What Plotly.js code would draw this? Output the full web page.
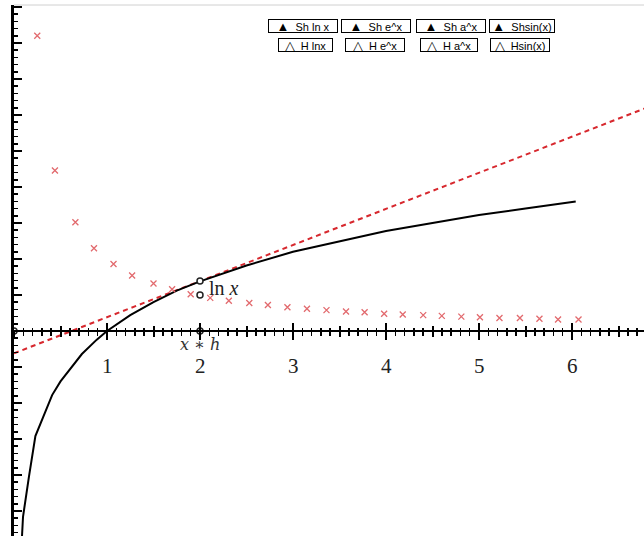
<!DOCTYPE html>
<html>
<head>
<meta charset="utf-8">
<script src="https://cdn.plot.ly/plotly-3.0.1.min.js"></script>
<style>html,body{margin:0;padding:0;background:#fff;}#chart{width:644px;height:536px;}</style>
</head>
<body>
<div id="chart"></div>
<script>
// ln x curve
const lnX = [0.086,0.097,0.16,0.23,0.41,0.5,0.73,0.89,1,1.25,1.5,1.75,2,2.5,3,3.5,4,4.5,5,5.5,6.04];
const lnY = [-2.85,-2.58,-2.03,-1.46,-0.89,-0.70,-0.32,-0.12,0,0.22,0.40,0.56,0.69,0.91,1.10,1.25,1.39,1.50,1.61,1.70,1.80];
// tangent line at x = 2
const tanX = [0, 6.8];
const tanY = [-0.31, 3.1];
// difference-quotient markers
const dqX = [0.25,0.44,0.66,0.86,1.07,1.27,1.50,1.70,1.90,2.11,2.31,2.53,2.73,2.94,3.15,3.36,3.57,3.77,3.98,4.18,4.40,4.60,4.81,5.01,5.22,5.44,5.65,5.85,6.07];
const dqY = [4.10,2.23,1.51,1.15,0.93,0.77,0.66,0.58,0.51,0.46,0.42,0.39,0.36,0.33,0.31,0.29,0.27,0.26,0.24,0.23,0.22,0.21,0.20,0.19,0.18,0.18,0.17,0.16,0.16];
// small open circles
const dotX = [0, 2, 2, 2];
const dotY = [0, 0, 0.693, 0.5];
// x tick labels
const tickVals = [1,2,3,4,5,6];
const tickText = ['1','2','3','4','5','6'];
// buttons
const btnRow1Icon = '▲', btnRow2Icon = '△';
const btnRow1 = ['Sh ln x','Sh e^x','Sh a^x','Shsin(x)'];
const btnRow2 = ['H lnx','H e^x','H a^x','Hsin(x)'];

const W = 644, H = 536, ML = 14, MT = 5;
const PW = W - ML, PH = H - MT;
const pxX = 93, pxY = 72, zeroPy = 331;
const xRange = [0, PW / pxX];
const yRange = [-(H - zeroPy) / pxY, (zeroPy - MT) / pxY];
const axisPos = (H - zeroPy) / PH;
const paperX = px => (px - ML) / PW;
const paperY = py => (H - py) / PH;

const traces = [
  {x: tanX, y: tanY, mode: 'lines', line: {color: '#d7282e', width: 2, dash: '5px,4px'}, hoverinfo: 'skip'},
  {x: lnX, y: lnY, mode: 'lines', line: {color: '#000', width: 2}, hoverinfo: 'skip'},
  {x: dqX, y: dqY, mode: 'markers', marker: {symbol: 'x-thin', size: 6, line: {color: '#e26a6e', width: 1.3}}, hoverinfo: 'skip'},
  {x: dotX, y: dotY, mode: 'markers', marker: {symbol: 'circle', size: 6, color: '#fff', line: {color: '#222', width: 1.5}}, hoverinfo: 'skip'},
  {x: [null], y: [null], xaxis: 'x2', mode: 'markers', showlegend: false},
  {x: [null], y: [null], xaxis: 'x3', mode: 'markers', showlegend: false},
  {x: [null], y: [null], xaxis: 'x4', mode: 'markers', showlegend: false}
];

const baseX = {range: xRange, anchor: 'free', position: axisPos, showgrid: false, zeroline: false,
  showticklabels: false, fixedrange: true};
const layout = {
  width: W, height: H, margin: {l: ML, r: 0, t: MT, b: 0},
  paper_bgcolor: '#fff', plot_bgcolor: '#fff', showlegend: false,
  xaxis: Object.assign({}, baseX, {showline: true, linecolor: '#000', linewidth: 2,
    ticks: 'outside', dtick: 0.5, tick0: 0, ticklen: 5, tickwidth: 2, tickcolor: '#000',
    minor: {dtick: 0.1, tick0: 0, ticks: 'outside', ticklen: 3.5, tickwidth: 1.5, tickcolor: '#000'}}),
  xaxis2: Object.assign({}, baseX, {overlaying: 'x', showline: false,
    ticks: 'inside', dtick: 0.5, tick0: 0, ticklen: 5, tickwidth: 2, tickcolor: '#000',
    minor: {dtick: 0.1, tick0: 0, ticks: 'inside', ticklen: 3.5, tickwidth: 1.5, tickcolor: '#000'}}),
  xaxis3: Object.assign({}, baseX, {overlaying: 'x', showline: false,
    ticks: 'outside', tickvals: tickVals, ticklen: 8, tickwidth: 2, tickcolor: '#000'}),
  xaxis4: Object.assign({}, baseX, {overlaying: 'x', showline: false,
    ticks: 'inside', tickvals: tickVals, ticklen: 8, tickwidth: 2, tickcolor: '#000'}),
  yaxis: {range: yRange, showgrid: false, zeroline: false, showticklabels: false, fixedrange: true,
    showline: true, linecolor: '#000', linewidth: 3,
    ticks: 'inside', dtick: 0.5, tick0: 0, ticklen: 8, tickwidth: 2, tickcolor: '#000',
    minor: {dtick: 0.1, tick0: 0, ticks: 'inside', ticklen: 4, tickwidth: 1.5, tickcolor: '#000'}},
  shapes: [
    {type: 'line', xref: 'paper', yref: 'paper', x0: 0, x1: 1, y0: 1, y1: 1, line: {color: '#d0d0d0', width: 1}}
  ],
  annotations: []
};

tickVals.forEach((v, i) => layout.annotations.push({
  x: v, y: -0.48, xref: 'x', yref: 'y', text: tickText[i], showarrow: false,
  xanchor: 'center', yanchor: 'middle',
  font: {family: 'Liberation Serif', size: 21, color: '#222'}
}));
layout.annotations.push({x: 2.26, y: 0.6, xref: 'x', yref: 'y', text: 'ln <i>x</i>', showarrow: false,
  xanchor: 'center', yanchor: 'middle',
  font: {family: 'Liberation Serif', size: 20, color: '#222'}});
layout.annotations.push({x: 2.0, y: -0.19, xref: 'x', yref: 'y', text: '<i>x</i> ∗ <i>h</i>', showarrow: false,
  xanchor: 'center', yanchor: 'middle',
  font: {family: 'DejaVu Serif', size: 16, color: '#333'}});

const row1C = [303, 375.5, 450.5, 522], row1W = [68, 68, 68, 64];
const row2C = [305.5, 374.5, 448.5, 520], row2W = [53, 58, 56, 58];
function addBtn(icon, t, cx, cy, w) {
  layout.annotations.push({
    x: paperX(cx), y: paperY(cy), xref: 'paper', yref: 'paper',
    text: '<span style="font-size:13px">' + icon + '</span>  ' + t, showarrow: false,
    xanchor: 'center', yanchor: 'middle',
    width: w, height: 12, bordercolor: '#000', borderwidth: 1, borderpad: 0, bgcolor: '#fff',
    font: {family: 'Liberation Sans', size: 11, color: '#000'}
  });
}
btnRow1.forEach((t, i) => addBtn(btnRow1Icon, t, row1C[i], 26.5, row1W[i]));
btnRow2.forEach((t, i) => addBtn(btnRow2Icon, t, row2C[i], 44.5, row2W[i]));

Plotly.newPlot('chart', traces, layout, {displayModeBar: false, staticPlot: true});
</script>
</body>
</html>
